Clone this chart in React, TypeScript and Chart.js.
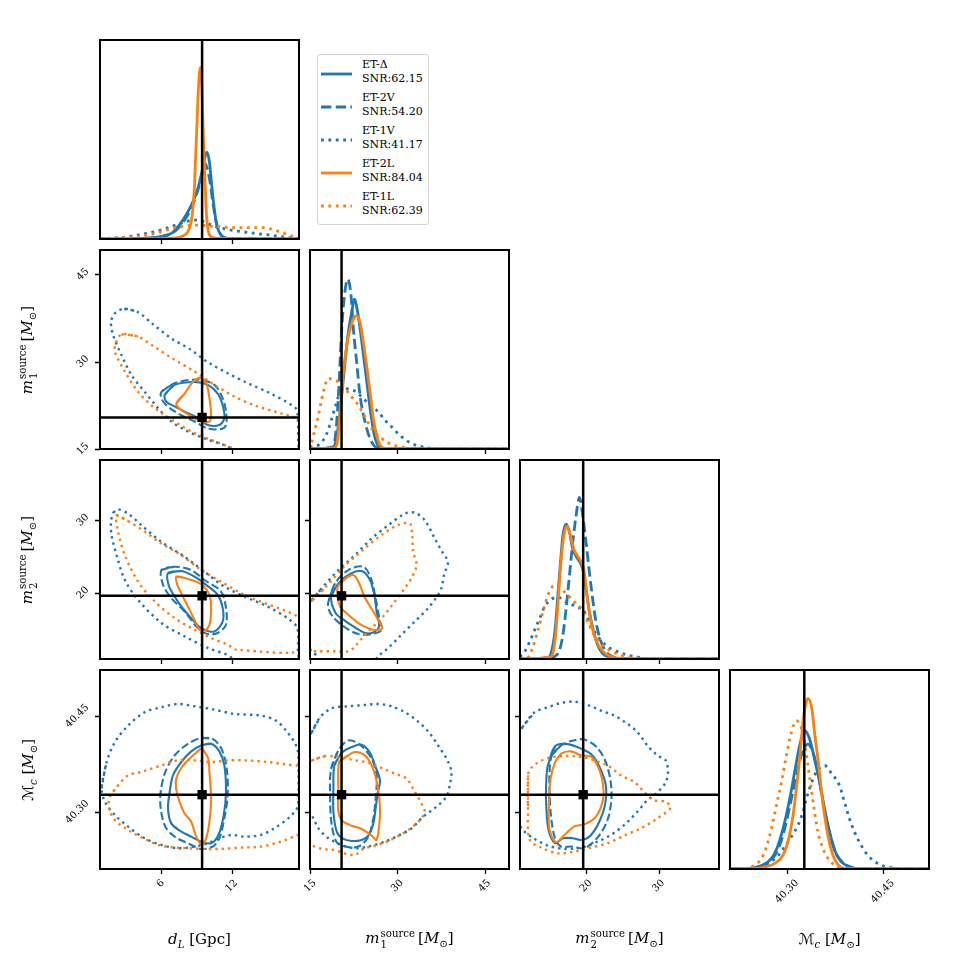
import React, { useEffect, useRef } from "react";
import { Chart, registerables } from "chart.js";

Chart.register(...registerables);

type Pt = [number, number];
type Range = [number, number];

// ---------- series ----------
const SERIES = ["ET-Δ", "ET-2V", "ET-1V", "ET-2L", "ET-1L"];
const SNR = ["62.15", "54.20", "41.17", "84.04", "62.39"];
const SERIES_COLOR = ["#1f77b4", "#1f77b4", "#1f77b4", "#ff7f0e", "#ff7f0e"];
const SERIES_STYLE = ["solid", "dashed", "dotted", "solid", "dotted"];

// ---------- axes ----------
const RANGE_DL: Range = [0.87, 17.69];
const RANGE_M1: Range = [14.97, 49.2];
const RANGE_M2: Range = [10.9, 38.3];
const RANGE_MC: Range = [40.2107, 40.5222];
const RANGE_PDF: Range = [0, 1];

const TRUTH_DL = 9.5;
const TRUTH_M1 = 20.4;
const TRUTH_M2 = 19.6;
const TRUTH_MC = 40.327;

const TICKS_DL = [6, 12];
const TICKS_M1 = [15, 30, 45];
const TICKS_M2 = [20, 30];
const TICKS_MC = [40.3, 40.45];
const TICK_LABELS_DL = ["6", "12"];
const TICK_LABELS_M1 = ["15", "30", "45"];
const TICK_LABELS_M2 = ["20", "30"];
const TICK_LABELS_MC = ["40.30", "40.45"];

// ---------- 1D marginal posteriors (order: Δ, 2V, 1V, 2L, 1L) ----------
const PDF_DL: Pt[][] = [
  [[0.87, 0], [4.65, 0.003], [6.06, 0.012], [6.9, 0.028], [7.46, 0.062], [7.88, 0.095], [8.3, 0.137], [8.72, 0.187], [9.14, 0.253], [9.48, 0.337], [9.7, 0.403], [9.9, 0.437], [10.12, 0.387], [10.26, 0.303], [10.4, 0.22], [10.6, 0.12], [10.82, 0.053], [11.1, 0.02], [11.52, 0.003], [17.7, 0]],
  [[0.87, 0], [4.65, 0.004], [6.06, 0.012], [6.9, 0.028], [7.46, 0.053], [8.02, 0.095], [8.58, 0.153], [9.0, 0.22], [9.42, 0.303], [9.72, 0.38], [10.12, 0.303], [10.4, 0.187], [10.68, 0.087], [11.1, 0.02], [11.6, 0.004], [17.7, 0]],
  [[0.87, 0.001], [2, 0.005], [3, 0.01], [4, 0.02], [5, 0.03], [6, 0.045], [7, 0.065], [8, 0.085], [8.8, 0.095], [9.5, 0.09], [10.5, 0.065], [11.5, 0.05], [12.5, 0.04], [13.5, 0.032], [14.5, 0.025], [15.5, 0.018], [16.5, 0.009], [17.7, 0.002]],
  [[0.87, 0], [6.62, 0.003], [7.74, 0.012], [8.3, 0.037], [8.58, 0.087], [8.72, 0.153], [8.86, 0.27], [8.97, 0.437], [9.08, 0.6], [9.2, 0.77], [9.36, 0.862], [9.48, 0.77], [9.56, 0.6], [9.65, 0.437], [9.76, 0.27], [9.87, 0.12], [10.04, 0.037], [10.26, 0.01], [10.82, 0.003], [17.7, 0]],
  [[0.87, 0.001], [1.85, 0.003], [3.25, 0.01], [4.93, 0.02], [6.06, 0.037], [7.18, 0.057], [8.3, 0.067], [9.14, 0.07], [9.7, 0.067], [10.82, 0.062], [12.22, 0.057], [13.63, 0.057], [14.75, 0.057], [15.59, 0.045], [16.43, 0.028], [17.27, 0.012], [17.7, 0.006]],
];

const PDF_M1: Pt[][] = [
  [[14.97, 0], [19.0, 0.008], [19.4, 0.037], [19.86, 0.12], [20.31, 0.237], [20.71, 0.353], [21.11, 0.47], [21.57, 0.587], [22.14, 0.687], [22.6, 0.753], [23.17, 0.687], [23.74, 0.57], [24.31, 0.437], [24.89, 0.303], [25.46, 0.17], [26.03, 0.07], [26.6, 0.02], [27.29, 0.003], [49.2, 0]],
  [[14.97, 0], [19.0, 0.012], [19.29, 0.053], [19.57, 0.137], [19.86, 0.27], [20.14, 0.437], [20.43, 0.603], [20.89, 0.77], [21.46, 0.853], [22.03, 0.77], [22.43, 0.603], [23.0, 0.437], [23.57, 0.27], [24.43, 0.137], [25.29, 0.053], [26.14, 0.012], [27.0, 0.002], [49.2, 0]],
  [[14.97, 0.006], [15.29, 0.012], [16.43, 0.02], [17.86, 0.078], [18.71, 0.153], [19.57, 0.237], [20.14, 0.287], [21.0, 0.303], [22.43, 0.295], [23.86, 0.262], [25.29, 0.22], [26.71, 0.187], [27.86, 0.145], [29.0, 0.112], [30.71, 0.062], [32.43, 0.028], [34.14, 0.012], [35.86, 0.003], [38, 0], [49.2, 0]],
  [[14.97, 0], [19.0, 0.005], [19.57, 0.02], [19.86, 0.087], [20.14, 0.187], [20.43, 0.287], [20.71, 0.387], [21.29, 0.52], [21.86, 0.603], [22.43, 0.653], [23.0, 0.67], [23.57, 0.637], [24.14, 0.537], [24.71, 0.42], [25.29, 0.287], [25.86, 0.153], [26.43, 0.07], [27.0, 0.02], [27.86, 0.003], [49.2, 0]],
  [[14.5, 0.005], [15.17, 0.028], [15.86, 0.103], [16.43, 0.17], [17.0, 0.253], [17.86, 0.345], [18.3, 0.355], [18.71, 0.35], [19.86, 0.337], [21.0, 0.303], [22.14, 0.262], [23.29, 0.22], [24.43, 0.162], [25.57, 0.103], [27.29, 0.053], [29.0, 0.023], [31.29, 0.007], [33.6, 0.001], [49.2, 0]],
];

const PDF_M2: Pt[][] = [
  [[10.9, 0], [14.74, 0.007], [15.29, 0.045], [15.75, 0.153], [16.11, 0.32], [16.48, 0.487], [16.8, 0.62], [17.25, 0.678], [17.71, 0.637], [18.17, 0.553], [18.85, 0.503], [19.54, 0.453], [19.99, 0.353], [20.45, 0.237], [21.04, 0.137], [21.59, 0.07], [22.28, 0.028], [23.42, 0.007], [25, 0.001], [38.3, 0]],
  [[10.9, 0], [14.74, 0.002], [15.65, 0.012], [16.34, 0.045], [16.8, 0.12], [17.25, 0.253], [17.71, 0.42], [18.17, 0.587], [18.62, 0.72], [19.08, 0.812], [19.54, 0.72], [19.99, 0.587], [20.45, 0.437], [20.9, 0.303], [21.36, 0.187], [22.05, 0.087], [22.73, 0.037], [23.65, 0.012], [24.79, 0.002], [38.3, 0]],
  [[10.9, 0.01], [11.54, 0.037], [12.23, 0.087], [12.91, 0.145], [13.6, 0.203], [14.28, 0.262], [15.2, 0.3], [16.2, 0.31], [17.02, 0.29], [17.94, 0.278], [18.62, 0.26], [19.54, 0.25], [19.99, 0.22], [20.9, 0.153], [21.82, 0.103], [22.96, 0.062], [24.33, 0.037], [25.7, 0.02], [27.07, 0.01], [28.44, 0.003], [31, 0], [38.3, 0]],
  [[10.9, 0], [15.2, 0.012], [15.56, 0.053], [15.88, 0.153], [16.2, 0.32], [16.57, 0.503], [16.93, 0.62], [17.34, 0.667], [17.85, 0.62], [18.3, 0.553], [19.08, 0.503], [19.67, 0.453], [20.13, 0.32], [20.59, 0.203], [21.13, 0.12], [21.82, 0.062], [22.73, 0.025], [23.87, 0.007], [26, 0.001], [38.3, 0]],
  [[10.9, 0], [12.0, 0.008], [12.69, 0.062], [13.37, 0.145], [14.06, 0.237], [14.74, 0.32], [15.65, 0.37], [16.57, 0.353], [17.48, 0.32], [18.39, 0.287], [19.31, 0.253], [20.22, 0.187], [21.13, 0.12], [22.05, 0.078], [23.42, 0.04], [24.79, 0.02], [26.61, 0.007], [28.5, 0.002], [38.3, 0]],
];

const PDF_MC: Pt[][] = [
  [[40.21, 0], [40.2393, 0.003], [40.26, 0.017], [40.2756, 0.053], [40.286, 0.12], [40.2964, 0.237], [40.3042, 0.353], [40.3119, 0.487], [40.3197, 0.62], [40.3275, 0.695], [40.3353, 0.653], [40.343, 0.553], [40.3509, 0.437], [40.3587, 0.303], [40.3665, 0.187], [40.3743, 0.095], [40.3846, 0.037], [40.3976, 0.012], [40.4106, 0.002], [40.53, 0]],
  [[40.21, 0], [40.2393, 0.003], [40.26, 0.012], [40.2756, 0.045], [40.2886, 0.12], [40.299, 0.237], [40.3068, 0.353], [40.3145, 0.47], [40.3223, 0.57], [40.3327, 0.628], [40.3405, 0.587], [40.3483, 0.487], [40.3545, 0.37], [40.3613, 0.253], [40.3691, 0.153], [40.3769, 0.078], [40.3872, 0.033], [40.4002, 0.008], [40.415, 0.001], [40.53, 0]],
  [[40.21, 0], [40.234, 0.002], [40.2548, 0.01], [40.273, 0.033], [40.286, 0.067], [40.2964, 0.112], [40.3068, 0.162], [40.3171, 0.22], [40.3249, 0.287], [40.3301, 0.353], [40.3369, 0.42], [40.3457, 0.487], [40.3587, 0.52], [40.3701, 0.478], [40.382, 0.42], [40.3898, 0.337], [40.3976, 0.253], [40.4054, 0.187], [40.4158, 0.12], [40.4262, 0.07], [40.4418, 0.028], [40.4625, 0.007], [40.48, 0.001], [40.53, 0]],
  [[40.21, 0], [40.234, 0.001], [40.26, 0.007], [40.2808, 0.028], [40.2938, 0.07], [40.3026, 0.153], [40.3094, 0.27], [40.3145, 0.403], [40.3197, 0.553], [40.3234, 0.687], [40.3275, 0.803], [40.3327, 0.857], [40.3389, 0.803], [40.343, 0.687], [40.3483, 0.553], [40.3535, 0.403], [40.3587, 0.27], [40.3649, 0.153], [40.3717, 0.07], [40.3794, 0.023], [40.3898, 0.003], [40.53, 0]],
  [[40.21, 0], [40.234, 0.003], [40.2496, 0.02], [40.26, 0.053], [40.2678, 0.112], [40.2756, 0.203], [40.2834, 0.32], [40.2912, 0.437], [40.299, 0.57], [40.3068, 0.687], [40.3145, 0.745], [40.3213, 0.72], [40.3275, 0.637], [40.3327, 0.52], [40.3379, 0.403], [40.3431, 0.287], [40.3483, 0.187], [40.3561, 0.103], [40.3639, 0.053], [40.3743, 0.02], [40.3872, 0.003], [40.53, 0]],
];

// ---------- 2D credible contours (closed loops; order: Δ, 2V, 1V, 2L, 1L) ----------
const CT_DL_M1: Pt[][] = [
  [[6.34, 24.3], [7.18, 26.0], [8.86, 26.5], [9.98, 26.0], [10.82, 24.5], [11.24, 22.5], [11.38, 20.3], [10.96, 19.1], [9.98, 19.1], [9.14, 20.3], [8.02, 21.4], [7.18, 22.3], [6.48, 23.1]],
  [[6.06, 24.8], [7.18, 26.3], [9.14, 26.9], [10.54, 26.0], [11.24, 23.7], [11.52, 21.4], [11.52, 19.1], [11.1, 18.4], [9.98, 18.5], [8.86, 19.7], [7.46, 21.1], [6.48, 22.5], [6.06, 23.7]],
  [[2.92, 39.1], [4.09, 38.5], [5.36, 36.4], [6.9, 34.0], [8.58, 32.0], [9.98, 29.9], [11.66, 28.0], [13.35, 26.3], [15.31, 24.5], [17.41, 22.0], [17.58, 20.5], [17.62, 16.0], [17.6, 13.0], [13.0, 13.0], [11.94, 15.1], [9.7, 16.8], [8.3, 18.0], [6.9, 19.7], [5.78, 22.0], [4.65, 24.8], [3.53, 27.7], [2.69, 31.1], [1.99, 34.5], [1.8, 36.8], [2.13, 38.3]],
  [[7.32, 22.8], [8.02, 24.5], [8.72, 26.5], [9.36, 27.2], [9.84, 26.3], [10.12, 23.7], [10.26, 20.8], [10.12, 19.7], [9.28, 19.8], [8.44, 20.8], [7.6, 21.9]],
  [[2.69, 34.7], [4.09, 34.3], [5.5, 32.5], [7.18, 30.3], [8.86, 28.3], [10.54, 26.0], [12.22, 24.0], [13.91, 22.5], [16.15, 21.1], [17.55, 20.3], [18.67, 19.4], [19.5, 17.0], [18.0, 13.0], [13.63, 13.4], [11.94, 15.2], [10.54, 16.3], [8.86, 17.7], [7.18, 19.7], [5.5, 22.0], [4.09, 24.8], [2.97, 28.3], [2.13, 31.7], [2.19, 33.1]],
];

const CT_DL_M2: Pt[][] = [
  [[6.62, 22.7], [7.74, 23.01], [8.86, 22.24], [9.84, 21.1], [10.82, 19.73], [11.24, 17.9], [11.24, 16.07], [10.54, 14.7], [9.42, 15.16], [8.58, 16.53], [7.74, 18.13], [7.18, 19.5], [6.67, 21.1]],
  [[6.06, 23.15], [7.18, 23.61], [8.58, 23.15], [9.7, 21.78], [11.1, 20.18], [11.52, 17.9], [11.52, 15.62], [10.82, 14.48], [9.98, 14.34], [9.14, 15.16], [8.02, 17.44], [6.9, 19.27], [6.2, 21.1]],
  [[2.0, 31.05], [2.36, 31.51], [3.25, 30.91], [4.37, 29.32], [6.06, 27.03], [8.02, 24.98], [9.7, 22.92], [11.38, 20.87], [13.07, 19.5], [15.03, 18.13], [16.71, 16.53], [17.55, 15.16], [17.6, 12.0], [17.6, 9.0], [12.5, 9.0], [11.94, 11.14], [9.98, 12.42], [8.02, 14.02], [6.06, 15.85], [4.09, 19.04], [2.97, 21.78], [2.27, 25.21], [1.85, 27.95], [1.8, 29.77]],
  [[7.32, 22.24], [8.3, 21.92], [9.42, 21.19], [10.12, 19.73], [10.26, 17.9], [10.12, 15.62], [9.7, 14.8], [9.28, 14.93], [8.86, 16.3], [8.3, 18.13], [7.8, 19.73], [7.41, 21.1]],
  [[2.27, 30.69], [3.25, 29.86], [4.37, 28.77], [6.06, 26.8], [7.74, 25.21], [9.42, 23.15], [11.1, 21.55], [13.07, 19.73], [15.03, 18.45], [16.71, 17.44], [17.6, 16.76], [18.39, 16.07], [18.39, 12.19], [12.37, 12.19], [11.66, 12.88], [10.26, 13.79], [8.86, 14.93], [7.18, 16.53], [5.5, 18.81], [4.09, 21.55], [2.97, 25.21], [2.41, 28.4]],
];

const CT_DL_MC: Pt[][] = [
  [[9.42, 40.4041], [10.26, 40.4067], [10.96, 40.3948], [11.38, 40.373], [11.52, 40.3315], [11.33, 40.2951], [10.88, 40.264], [10.26, 40.251], [9.42, 40.2536], [8.58, 40.2614], [7.74, 40.2692], [6.9, 40.2821], [6.62, 40.3055], [6.76, 40.3315], [7.04, 40.3574], [7.74, 40.3782], [8.58, 40.3948]],
  [[9.42, 40.4156], [10.4, 40.4145], [11.16, 40.3979], [11.58, 40.3678], [11.66, 40.3263], [11.38, 40.2899], [10.96, 40.2588], [10.4, 40.2458], [9.42, 40.2422], [8.3, 40.251], [7.18, 40.2614], [6.39, 40.277], [6.0, 40.3055], [6.0, 40.3315], [6.39, 40.3626], [7.18, 40.3886], [8.3, 40.4067]],
  [[1.01, 40.3366], [1.43, 40.3782], [2.13, 40.4093], [3.25, 40.4353], [4.65, 40.4561], [6.06, 40.4639], [7.46, 40.469], [8.86, 40.4654], [10.26, 40.4613], [12.22, 40.4535], [14.47, 40.4509], [15.73, 40.4431], [16.71, 40.4249], [17.55, 40.399], [17.65, 40.36], [17.6, 40.31], [16.9, 40.292], [15.59, 40.2743], [14.47, 40.264], [13.07, 40.2614], [11.94, 40.264], [10.82, 40.2577], [9.98, 40.251], [8.86, 40.2458], [7.46, 40.2432], [6.06, 40.2484], [4.65, 40.2588], [3.25, 40.277], [2.13, 40.2951], [1.29, 40.3159]],
  [[9.48, 40.399], [9.98, 40.386], [10.12, 40.3626], [10.26, 40.3211], [10.12, 40.2847], [9.84, 40.2588], [9.48, 40.2484], [9.0, 40.2614], [8.58, 40.2847], [8.02, 40.2977], [7.6, 40.3159], [7.32, 40.3341], [7.32, 40.3523], [7.8, 40.3704], [8.44, 40.3834], [9.0, 40.3927]],
  [[1.71, 40.3237], [2.41, 40.3418], [3.25, 40.3574], [4.37, 40.3626], [6.06, 40.373], [7.46, 40.3808], [8.86, 40.3808], [10.26, 40.3782], [11.66, 40.3808], [13.07, 40.3808], [15.03, 40.3782], [16.71, 40.374], [17.6, 40.372], [18.39, 40.3626], [18.39, 40.2692], [17.6, 40.264], [16.15, 40.2536], [14.47, 40.2458], [12.79, 40.2442], [11.1, 40.2422], [9.7, 40.2422], [8.3, 40.2432], [6.9, 40.2448], [5.78, 40.2484], [4.65, 40.2577], [3.25, 40.2717], [2.13, 40.2873], [1.63, 40.3055]],
];

const CT_M1_M2: Pt[][] = [
  [[18.6, 19.5], [19.86, 21.32], [21.86, 22.6], [23.86, 23.01], [25.29, 21.78], [26.03, 19.73], [26.43, 17.44], [26.83, 15.39], [25.86, 14.57], [24.43, 14.48], [22.71, 15.25], [21.0, 16.16], [19.4, 17.21]],
  [[18.14, 18.81], [19.29, 21.32], [21.57, 23.15], [24.14, 23.61], [25.46, 22.01], [26.26, 19.27], [27.0, 16.07], [27.4, 14.93], [25.57, 14.34], [23.29, 14.34], [21.0, 15.25], [19.0, 16.62], [18.14, 17.81]],
  [[15.29, 19.04], [17.0, 20.64], [19.86, 23.15], [22.71, 25.21], [25.57, 27.49], [28.43, 29.32], [31.29, 30.91], [33.0, 31.05], [34.71, 30.0], [36.43, 27.49], [37.86, 25.43], [38.71, 24.29], [38.03, 22.47], [37.57, 20.64], [37.0, 19.73], [35.29, 17.9], [33.0, 16.07], [30.71, 14.25], [28.43, 12.42], [26.71, 11.28], [25.0, 9.68], [16.5, 9.8], [16.26, 11.28], [15.29, 11.9], [13.0, 15.16], [13.57, 17.9]],
  [[19.74, 20.87], [21.0, 21.92], [22.43, 22.47], [23.4, 21.37], [24.31, 19.5], [25.57, 17.81], [26.83, 16.07], [27.4, 15.07], [25.86, 14.93], [23.57, 15.71], [21.57, 16.99], [20.14, 18.13], [19.74, 19.5]],
  [[15.29, 18.9], [17.57, 20.73], [21.0, 23.75], [23.86, 25.79], [27.29, 27.99], [30.14, 29.36], [32.14, 29.58], [32.54, 27.99], [32.71, 25.7], [33.29, 23.84], [32.43, 22.05], [31.29, 20.68], [29.57, 18.81], [27.29, 16.53], [24.43, 14.25], [22.71, 12.65], [21.57, 11.96], [19.29, 11.96], [16.43, 11.96], [15.17, 11.96], [13.0, 11.96], [13.0, 17.44]],
];

const CT_M1_MC: Pt[][] = [
  [[19.17, 40.373], [20.43, 40.3927], [22.14, 40.4016], [23.86, 40.4052], [25.29, 40.3927], [26.14, 40.373], [27.0, 40.3496], [26.6, 40.3289], [26.26, 40.3055], [25.86, 40.2821], [25.0, 40.2629], [23.86, 40.2562], [22.14, 40.2546], [20.54, 40.2588], [19.57, 40.2692], [19.0, 40.3003], [19.0, 40.3366]],
  [[18.6, 40.3678], [19.86, 40.3964], [21.57, 40.412], [23.57, 40.4052], [25.57, 40.3834], [26.43, 40.3574], [26.26, 40.3211], [25.86, 40.2899], [25.0, 40.2614], [23.29, 40.2458], [21.0, 40.2458], [19.57, 40.2525], [18.71, 40.2795], [18.43, 40.3211]],
  [[15.29, 40.4249], [16.71, 40.4483], [18.71, 40.4623], [21.57, 40.4654], [24.43, 40.4675], [26.71, 40.469], [29.0, 40.4654], [31.29, 40.4561], [33.57, 40.4415], [35.4, 40.4249], [37.0, 40.4041], [38.6, 40.3808], [39.29, 40.3626], [39.0, 40.3418], [38.43, 40.3237], [36.71, 40.3081], [34.43, 40.2925], [32.43, 40.2743], [30.43, 40.264], [27.86, 40.2536], [25.0, 40.2458], [22.71, 40.2432], [20.43, 40.2484], [18.14, 40.2588], [16.43, 40.2743], [15.57, 40.2899], [13.57, 40.3211], [13.57, 40.3938]],
  [[19.97, 40.3782], [21.11, 40.386], [22.71, 40.3938], [24.43, 40.3886], [25.57, 40.373], [26.26, 40.3548], [26.83, 40.3263], [27.0, 40.2951], [26.43, 40.2562], [25.57, 40.2629], [23.86, 40.2733], [22.14, 40.2785], [20.54, 40.2858], [19.86, 40.3003], [19.86, 40.3315]],
  [[15.29, 40.3808], [17.57, 40.3875], [19.86, 40.386], [22.71, 40.3808], [25.0, 40.3772], [27.29, 40.3688], [29.57, 40.36], [31.57, 40.3522], [33.0, 40.3315], [34.14, 40.3133], [34.71, 40.3003], [34.03, 40.2889], [32.43, 40.2754], [30.71, 40.265], [28.43, 40.2546], [26.14, 40.2473], [24.14, 40.2422], [22.71, 40.2328], [21.0, 40.2349], [19.0, 40.2406], [17.0, 40.2422], [15.4, 40.2484], [13.57, 40.2795], [13.57, 40.373]],
];

const CT_M2_MC: Pt[][] = [
  [[14.74, 40.373], [15.75, 40.4031], [17.48, 40.4062], [19.31, 40.399], [20.77, 40.3896], [21.96, 40.3678], [22.73, 40.3408], [22.6, 40.3107], [21.82, 40.2847], [20.59, 40.2629], [19.31, 40.2562], [18.17, 40.2588], [16.8, 40.2588], [15.75, 40.251], [14.83, 40.2717], [14.51, 40.3107], [14.51, 40.347]],
  [[15.29, 40.3886], [16.57, 40.4041], [18.03, 40.4114], [19.76, 40.4135], [21.59, 40.4], [22.87, 40.373], [23.51, 40.3315], [23.05, 40.291], [21.68, 40.2614], [19.76, 40.2432], [18.03, 40.2458], [16.57, 40.2458], [15.75, 40.2577], [15.2, 40.2899], [14.97, 40.3315], [14.97, 40.3626]],
  [[11.09, 40.4301], [12.91, 40.4561], [14.74, 40.4639], [16.57, 40.4706], [18.39, 40.4727], [20.22, 40.4675], [22.05, 40.4587], [23.87, 40.4509], [25.7, 40.4379], [27.07, 40.4249], [28.44, 40.4041], [29.81, 40.3886], [30.95, 40.3808], [31.27, 40.3626], [30.95, 40.346], [29.81, 40.3304], [28.44, 40.3185], [27.07, 40.3003], [25.24, 40.2795], [23.42, 40.264], [21.59, 40.2536], [19.31, 40.2442], [17.02, 40.2422], [14.74, 40.2473], [12.91, 40.2578], [11.32, 40.2717], [9.26, 40.3107], [9.26, 40.3938]],
  [[15.75, 40.3782], [16.57, 40.3912], [17.94, 40.3948], [19.31, 40.3886], [20.77, 40.386], [21.96, 40.3616], [22.41, 40.3315], [22.14, 40.3107], [21.23, 40.291], [19.76, 40.2806], [18.39, 40.2775], [17.02, 40.264], [15.88, 40.2525], [14.97, 40.2717], [14.88, 40.3107], [15.11, 40.3522]],
  [[12.0, 40.3574], [12.0, 40.3055], [12.23, 40.2562], [13.83, 40.2442], [16.11, 40.2354], [18.39, 40.238], [20.68, 40.2442], [22.96, 40.251], [25.24, 40.2629], [27.53, 40.2743], [29.81, 40.2899], [31.64, 40.3065], [30.95, 40.3159], [29.35, 40.3185], [27.98, 40.3315], [26.61, 40.347], [24.79, 40.3574], [22.96, 40.373], [21.13, 40.3808], [19.31, 40.386], [17.02, 40.3875], [14.74, 40.3844], [12.91, 40.374], [12.23, 40.3652]],
];

// ---------- layout ----------
const PANEL = 199;
const STEP = 210;
const GRID_LEFT = 100;
const GRID_TOP = 40;
const ML = 60, MR = 8, MT = 8, MB = 60;
const TICK_FONT = "10px 'DejaVu Serif'";
const TEXT_FONT = "'DejaVu Serif', serif";

interface Param { range: Range; truth: number; ticks: number[]; labels: string[] }
const PARAMS: Param[] = [
  { range: RANGE_DL, truth: TRUTH_DL, ticks: TICKS_DL, labels: TICK_LABELS_DL },
  { range: RANGE_M1, truth: TRUTH_M1, ticks: TICKS_M1, labels: TICK_LABELS_M1 },
  { range: RANGE_M2, truth: TRUTH_M2, ticks: TICKS_M2, labels: TICK_LABELS_M2 },
  { range: RANGE_MC, truth: TRUTH_MC, ticks: TICKS_MC, labels: TICK_LABELS_MC },
];

interface PanelSpec { row: number; col: number; curves: Pt[][] }
const PANELS: PanelSpec[] = [
  { row: 0, col: 0, curves: PDF_DL },
  { row: 1, col: 0, curves: CT_DL_M1 },
  { row: 1, col: 1, curves: PDF_M1 },
  { row: 2, col: 0, curves: CT_DL_M2 },
  { row: 2, col: 1, curves: CT_M1_M2 },
  { row: 2, col: 2, curves: PDF_M2 },
  { row: 3, col: 0, curves: CT_DL_MC },
  { row: 3, col: 1, curves: CT_M1_MC },
  { row: 3, col: 2, curves: CT_M2_MC },
  { row: 3, col: 3, curves: PDF_MC },
];

function lineStyle(i: number, twoD: boolean) {
  const kind = SERIES_STYLE[i];
  const base = twoD ? 2.1 : 2.8;
  const lw = kind === "dotted" ? (twoD ? 2.4 : 2.8) : base;
  const dash =
    kind === "dashed" ? [3.7 * lw, 1.6 * lw] : kind === "dotted" ? [lw, twoD ? 4.0 : 1.65 * lw] : [];
  return { borderColor: SERIES_COLOR[i], borderWidth: lw, borderDash: dash };
}

// frame, outward ticks and rotated tick labels, drawn through the chart's scales
const cornerAxes = {
  id: "cornerAxes",
  afterDatasetsDraw(chart: any, _args: any, opts: any) {
    const { ctx, chartArea: a, scales } = chart;
    const xs = scales.x;
    const ys = scales.y;
    ctx.save();
    ctx.strokeStyle = "#000";
    ctx.fillStyle = "#000";
    ctx.lineWidth = 1.3;
    ctx.beginPath();
    for (const v of opts.xTicks) {
      const px = Math.round(xs.getPixelForValue(v)) + 0.5;
      ctx.moveTo(px, a.bottom);
      ctx.lineTo(px, a.bottom + 5);
    }
    if (opts.yTicks) {
      for (const v of opts.yTicks) {
        const py = Math.round(ys.getPixelForValue(v)) + 0.5;
        ctx.moveTo(a.left - 5, py);
        ctx.lineTo(a.left, py);
      }
    }
    ctx.stroke();
    ctx.lineWidth = 2;
    ctx.strokeRect(a.left, a.top, a.right - a.left, a.bottom - a.top);

    ctx.font = TICK_FONT;
    ctx.textAlign = "center";
    ctx.textBaseline = "middle";
    const h = 10;
    const drawRot = (text: string, cx: number, cy: number) => {
      ctx.save();
      ctx.translate(cx, cy);
      ctx.rotate(-Math.PI / 4);
      ctx.fillText(text, 0, 0);
      ctx.restore();
    };
    if (opts.xLabels) {
      opts.xTicks.forEach((v: number, k: number) => {
        const t = opts.xLabels[k];
        const d = (ctx.measureText(t).width + h) / 2.83;
        drawRot(t, xs.getPixelForValue(v), a.bottom + 9 + d);
      });
    }
    if (opts.yLabels) {
      opts.yTicks.forEach((v: number, k: number) => {
        const t = opts.yLabels[k];
        const d = (ctx.measureText(t).width + h) / 2.83;
        drawRot(t, a.left - 9 - d, ys.getPixelForValue(v));
      });
    }
    ctx.restore();
  },
};

function Panel({ spec }: { spec: PanelSpec }) {
  const ref = useRef<HTMLCanvasElement>(null);
  const left = GRID_LEFT + STEP * spec.col - ML;
  const top = GRID_TOP + STEP * spec.row - MT;
  const width = ML + PANEL + MR;
  const height = MT + PANEL + MB;

  useEffect(() => {
    const xp = PARAMS[spec.col];
    const yp = spec.row === spec.col ? null : PARAMS[spec.row];
    const twoD = !!yp;
    const yRange = yp ? yp.range : RANGE_PDF;
    const datasets: any[] = [];
    const black = { borderColor: "#000", backgroundColor: "#000", pointRadius: 0, showLine: true, borderWidth: 2.5 };

    if (yp) {
      datasets.push({
        data: [{ x: xp.truth, y: yp.truth }],
        showLine: false,
        pointStyle: "rect",
        pointRadius: 6.6,
        backgroundColor: "#000",
        borderWidth: 0,
      });
      datasets.push({ ...black, data: [{ x: xp.range[0] - 100, y: yp.truth }, { x: xp.range[1] + 100, y: yp.truth }] });
    }
    datasets.push({ ...black, data: [{ x: xp.truth, y: yRange[0] - 100 }, { x: xp.truth, y: yRange[1] + 100 }] });

    for (const i of [4, 3, 2, 1, 0]) {
      const pts = spec.curves[i];
      const loop = twoD ? [...pts, pts[0], pts[1]] : pts;
      datasets.push({
        label: SERIES[i],
        data: loop.map(([x, y]) => ({ x, y })),
        showLine: true,
        pointRadius: 0,
        fill: false,
        borderCapStyle: "butt",
        borderJoinStyle: "round",
        ...(twoD ? { tension: 0.32 } : { cubicInterpolationMode: "monotone" }),
        ...lineStyle(i, twoD),
      });
    }

    const chart = new Chart(ref.current as HTMLCanvasElement, {
      type: "scatter",
      data: { datasets },
      options: {
        responsive: false,
        animation: false,
        devicePixelRatio: 1,
        events: [],
        layout: { padding: { left: ML, right: MR, top: MT, bottom: MB } },
        scales: {
          x: { type: "linear", min: xp.range[0], max: xp.range[1], display: false },
          y: { type: "linear", min: yRange[0], max: yRange[1], display: false },
        },
        plugins: {
          legend: { display: false },
          tooltip: { enabled: false },
          cornerAxes: {
            xTicks: xp.ticks,
            xLabels: spec.row === 3 ? xp.labels : null,
            yTicks: yp ? yp.ticks : null,
            yLabels: yp && spec.col === 0 ? yp.labels : null,
          },
        } as any,
      },
      plugins: [cornerAxes],
    } as any);
    return () => chart.destroy();
  }, [spec]);

  return (
    <canvas
      ref={ref}
      width={width}
      height={height}
      style={{ position: "absolute", left, top, width, height }}
    />
  );
}

function SubSup({ sub, sup }: { sub: string; sup: string }) {
  return (
    <span
      style={{
        display: "inline-flex",
        flexDirection: "column",
        alignItems: "flex-start",
        fontSize: "0.68em",
        lineHeight: 1.05,
        verticalAlign: "0.6em",
        margin: "0 3px 0 1px",
      }}
    >
      <span>{sup}</span>
      <span>{sub}</span>
    </span>
  );
}

const Sub = ({ children }: { children: React.ReactNode }) => (
  <span style={{ fontSize: "0.68em", verticalAlign: "-0.35em" }}>{children}</span>
);

const Msun = () => (
  <>
    [<i>M</i>
    <Sub>⊙</Sub>]
  </>
);

const TITLES: React.ReactNode[] = [
  <>
    <i>d</i>
    <Sub>
      <i>L</i>
    </Sub>{" "}
    [Gpc]
  </>,
  <>
    <i>m</i>
    <SubSup sub="1" sup="source" />
    <Msun />
  </>,
  <>
    <i>m</i>
    <SubSup sub="2" sup="source" />
    <Msun />
  </>,
  <>
    <span style={{ fontFamily: "'DejaVu Sans', sans-serif" }}>ℳ</span>
    <Sub>
      <i>c</i>
    </Sub>{" "}
    <Msun />
  </>,
];

const LEGEND_DASH = ["", "10.3 4.45", "2.8 4.6", "", "2.8 4.6"];

function Legend() {
  return (
    <div
      style={{
        position: "absolute",
        left: 317,
        top: 54,
        width: 112,
        height: 171,
        border: "1px solid #d4d4d4",
        borderRadius: 3,
        boxSizing: "border-box",
        background: "rgba(255,255,255,0.85)",
        fontFamily: TEXT_FONT,
        fontSize: 11,
        color: "#000",
      }}
    >
      {SERIES.map((s, i) => {
        const ly = 18.5 + 33.1 * i;
        return (
          <React.Fragment key={s}>
            <svg width={32} height={6} style={{ position: "absolute", left: 3, top: ly - 3 }}>
              <line
                x1={0}
                y1={3}
                x2={31}
                y2={3}
                stroke={SERIES_COLOR[i]}
                strokeWidth={2.8}
                strokeDasharray={LEGEND_DASH[i] || undefined}
              />
            </svg>
            <div
              style={{
                position: "absolute",
                left: 44,
                top: ly - 16,
                lineHeight: "14.5px",
                whiteSpace: "nowrap",
              }}
            >
              {s}
              <br />
              SNR:{SNR[i]}
            </div>
          </React.Fragment>
        );
      })}
    </div>
  );
}

export default function App() {
  const titleStyle: React.CSSProperties = {
    position: "absolute",
    fontFamily: TEXT_FONT,
    fontSize: 15,
    whiteSpace: "nowrap",
    color: "#000",
  };
  return (
    <div style={{ position: "absolute", left: 0, top: 0, width: 970, height: 970, background: "#fff", overflow: "hidden" }}>
      {PANELS.map((p) => (
        <Panel key={`${p.row}-${p.col}`} spec={p} />
      ))}
      <Legend />
      {TITLES.map((t, c) => (
        <div
          key={`x${c}`}
          style={{ ...titleStyle, left: GRID_LEFT + STEP * c + PANEL / 2, top: 940, transform: "translate(-50%, -50%)" }}
        >
          {t}
        </div>
      ))}
      {TITLES.slice(1).map((t, k) => (
        <div
          key={`y${k}`}
          style={{
            ...titleStyle,
            left: 29,
            top: GRID_TOP + STEP * (k + 1) + PANEL / 2,
            transform: "translate(-50%, -50%) rotate(-90deg)",
          }}
        >
          {t}
        </div>
      ))}
    </div>
  );
}
